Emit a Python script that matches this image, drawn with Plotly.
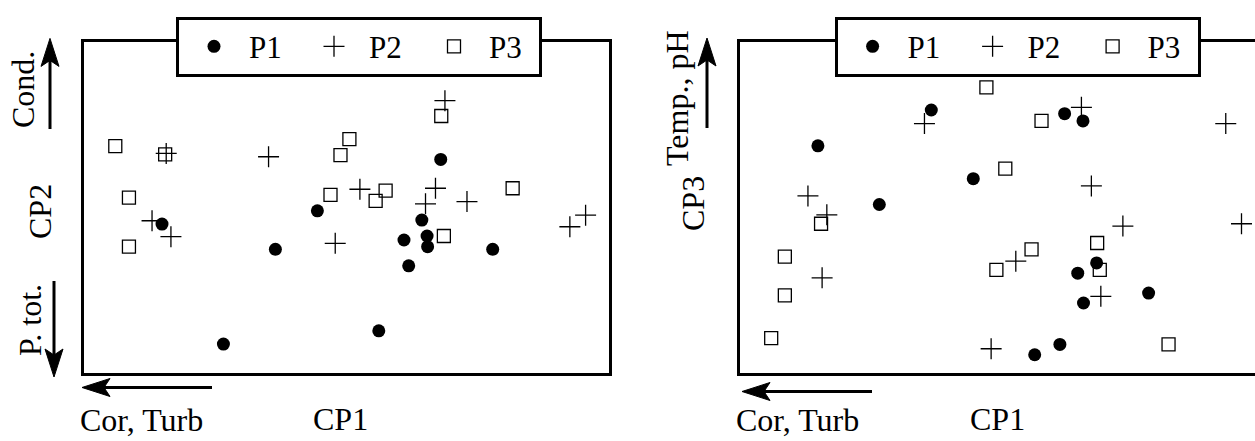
import math
import plotly.graph_objects as go

# Scores (arbitrary units, 0-10 across the frame)
cp1_p1 = [1.49, 3.65, 4.45, 2.66, 5.62, 6.80, 6.44, 6.10, 6.54, 6.55, 6.19, 7.79]
cp2_p1 = [4.50, 3.74, 4.90, 0.88, 1.28, 6.45, 4.62, 4.02, 4.14, 3.82, 3.24, 3.74]
cp3_p1 = [6.86, 7.94, 5.87, 5.09, 0.56, 3.33, 3.02, 0.87, 7.61, 2.12, 7.83, 2.42]

cp1_p2 = [3.52, 6.88, 1.57, 1.30, 1.66, 4.79, 5.26, 6.70, 6.51, 7.30, 9.26, 9.56]
cp2_p2 = [6.53, 8.22, 6.63, 4.60, 4.12, 3.92, 5.55, 5.58, 5.11, 5.18, 4.42, 4.77]
cp3_p2 = [7.53, 2.32, 2.88, 5.35, 4.78, 0.74, 3.38, 5.65, 8.02, 4.44, 7.53, 4.51]

cp1_p3 = [0.60, 1.55, 0.86, 0.86, 5.06, 4.89, 4.70, 5.75, 5.56, 6.81, 6.86, 8.17]
cp2_p3 = [6.85, 6.60, 5.30, 3.82, 7.06, 6.58, 5.38, 5.51, 5.20, 7.76, 4.14, 5.58]
cp3_p3 = [1.06, 4.51, 3.52, 2.35, 6.17, 3.12, 8.62, 7.61, 3.74, 3.93, 3.12, 0.87]

series_names = ["P1", "P2", "P3"]

W, H = 1255, 441
FONT = "Liberation Serif"

def px_x(p):
    return p / W

def px_y(p):
    return 1 - p / H

markers = [
    dict(symbol="circle", size=13, color="black"),
    dict(symbol="cross-thin", size=15, color="black", line=dict(color="black", width=1.3)),
    dict(symbol="square-open", size=13, color="black", line=dict(color="black", width=1.3)),
]

fig = go.Figure()
left_sets = [(cp1_p1, cp2_p1), (cp1_p2, cp2_p2), (cp1_p3, cp2_p3)]
right_sets = [(cp1_p1, cp3_p1), (cp1_p2, cp3_p2), (cp1_p3, cp3_p3)]
for name, (xs, ys), mk in zip(series_names, left_sets, markers):
    fig.add_trace(go.Scatter(x=xs, y=ys, mode="markers", name=name, marker=mk,
                             xaxis="x", yaxis="y", legend="legend"))
for name, (xs, ys), mk in zip(series_names, right_sets, markers):
    fig.add_trace(go.Scatter(x=xs, y=ys, mode="markers", name=name, marker=mk,
                             xaxis="x2", yaxis="y2", legend="legend2"))

axis_common = dict(showgrid=False, zeroline=False, showticklabels=False, ticks="",
                   showline=True, linewidth=3, linecolor="black", fixedrange=True)

legend_common = dict(orientation="h", y=px_y(16.7), xanchor="left", yanchor="top",
                     bgcolor="white", bordercolor="black", borderwidth=3,
                     font=dict(family=FONT, size=31, color="black"),
                     itemwidth=60, entrywidth=45, entrywidthmode="pixels", itemclick=False)

y_dom = [px_y(373.3), px_y(41.7)]
fig.update_layout(
    width=W, height=H,
    margin=dict(l=0, r=0, t=0, b=0),
    paper_bgcolor="white", plot_bgcolor="white",
    font=dict(family=FONT, color="black", size=32),
    xaxis=dict(domain=[px_x(83.8), px_x(608.7)], range=[0, 10], mirror=True, anchor="y", **axis_common),
    yaxis=dict(domain=y_dom, range=[0, 10], mirror=True, anchor="x", **axis_common),
    xaxis2=dict(domain=[px_x(739.7), 1.0], range=[0, 515.3 / 52.49], mirror=True, anchor="y2", **axis_common),
    yaxis2=dict(domain=y_dom, range=[0, 10], mirror=False, anchor="x2", **axis_common),
    legend=dict(x=px_x(176), **legend_common),
    legend2=dict(x=px_x(834.6), **legend_common),
)

def arrow(hx, hy, tx, ty, head_len=28, half_w=9, notch=6):
    dx, dy = hx - tx, hy - ty
    d = math.hypot(dx, dy)
    ux, uy = dx / d, dy / d
    nx, ny = -uy, ux
    bx, by = hx - head_len * ux, hy - head_len * uy
    mx, my = hx - (head_len - notch) * ux, hy - (head_len - notch) * uy
    fig.add_shape(type="line", xref="paper", yref="paper",
                  x0=px_x(tx), y0=px_y(ty), x1=px_x(mx), y1=px_y(my),
                  line=dict(color="black", width=3))
    pts = [(hx, hy), (bx + half_w * nx, by + half_w * ny), (mx, my),
           (bx - half_w * nx, by - half_w * ny)]
    path = "M " + " L ".join(f"{px_x(a):.5f},{px_y(b):.5f}" for a, b in pts) + " Z"
    fig.add_shape(type="path", xref="paper", yref="paper", path=path,
                  fillcolor="black", line=dict(color="black", width=1))

arrow(50, 38.4, 50, 129)      # Cond. up
arrow(54, 377, 54, 281)       # P. tot. down
arrow(82, 387.5, 212, 387.5)  # Cor, Turb left
arrow(707, 38, 707, 128)      # Temp., pH up
arrow(742, 391.5, 872, 391.5) # Cor, Turb right

def label(txt, cx, cy, angle=0, size=32):
    fig.add_annotation(x=px_x(cx), y=px_y(cy), xref="paper", yref="paper",
                       text=txt, showarrow=False, textangle=angle,
                       xanchor="center", yanchor="middle",
                       font=dict(family=FONT, size=size, color="black"))

label("Cond.", 23, 89, -90)
label("CP2", 40, 212, -90)
label("P. tot.", 30, 320, -90)
label("Cor, Turb", 141.5, 419.5)
label("CP1", 340.5, 419)
label("Temp., pH", 677, 98, -90)
label("CP3", 693, 204, -90)
label("Cor, Turb", 798, 419.5)
label("CP1", 997.5, 419)

fig.write_html("out.html", config={"displayModeBar": False},
               post_script="document.body.style.margin='0';")
